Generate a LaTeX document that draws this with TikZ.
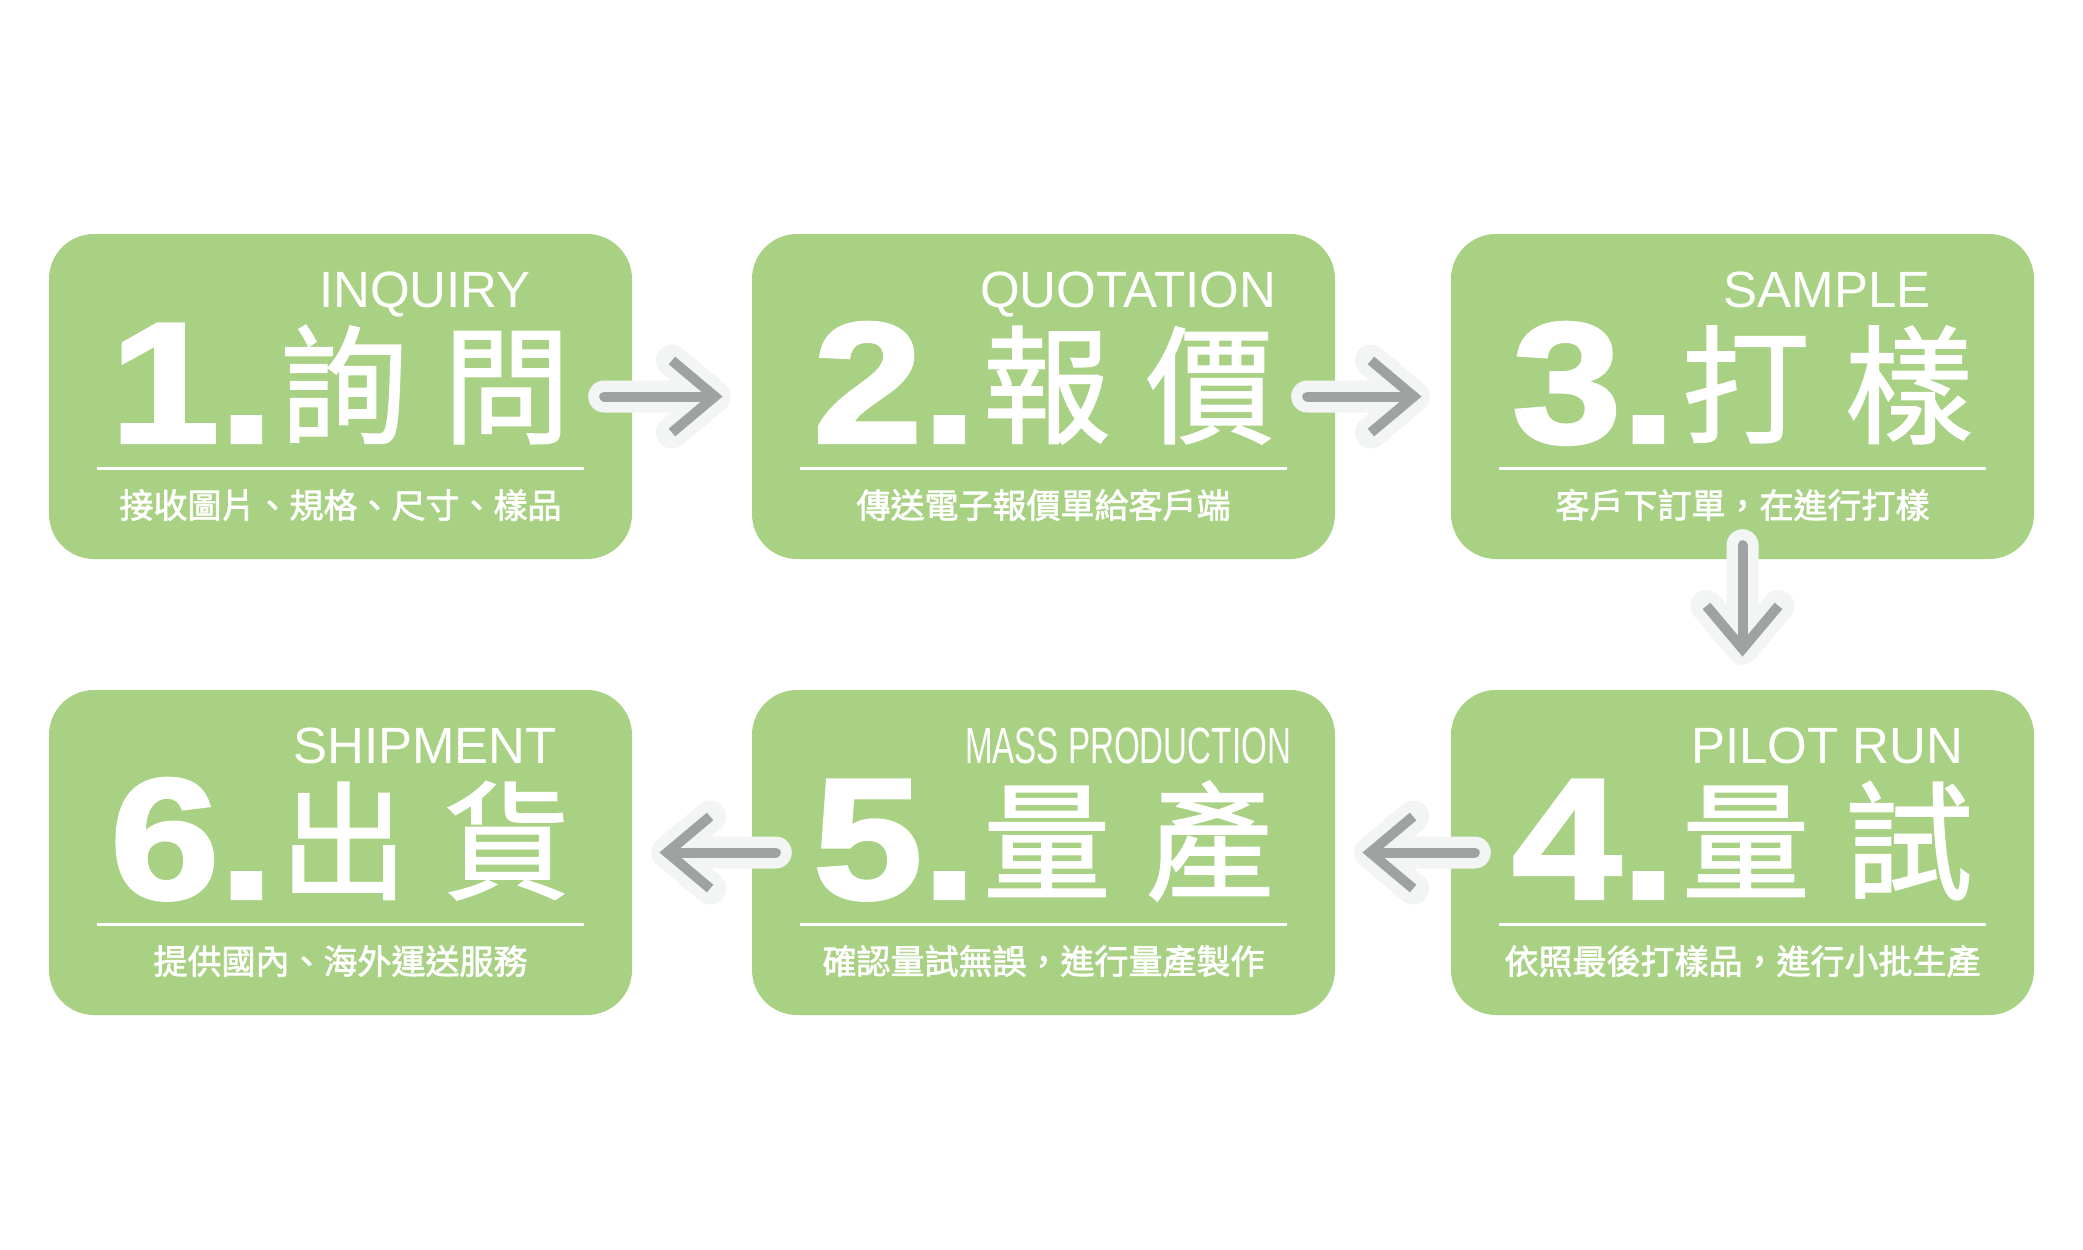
\documentclass[tikz,border=0pt]{standalone}
\usepackage{fontspec}
\usepackage{graphicx}
\usetikzlibrary{positioning,calc}
\setmainfont{Liberation Sans}
\newfontfamily\heavyfont{Liberation Sans}[BoldFeatures={FakeBold=2}]
\newfontfamily\cjkfont{Noto Sans CJK TC}[FakeBold=1.2]
\newfontfamily\cjknote{Noto Sans CJK TC}[FakeBold=2]
\definecolor{flowGreen}{RGB}{169,209,131}
\definecolor{flowGray}{RGB}{160,162,162}
\definecolor{flowHalo}{RGB}{243,245,245}

\tikzset{
  stepbox/.style={fill=flowGreen, rounded corners=45pt, minimum width=583pt,
                  minimum height=325pt, inner sep=0pt},
  steptitle/.style={anchor=base, inner sep=0pt, text=white,
                    font=\fontsize{51}{51}\selectfont},
  stepbig/.style={anchor=base, inner sep=0pt, text=white},
  stepnote/.style={anchor=base, inner sep=0pt, text=white,
                   font=\cjknote\fontsize{34}{34}\selectfont},
  sepline/.style={draw=white, line width=2.5pt},
  arrowhalo/.style={draw=flowHalo, line width=32pt, line cap=round, line join=round},
  arrowcore/.style={draw=flowGray, line width=10pt},
}

\newcommand{\bignum}[1]{\scalebox{1.14}[1]{\heavyfont\bfseries\fontsize{172}{172}\selectfont #1}}
\newcommand{\bigzh}[2]{\raisebox{9pt}{\cjkfont\fontsize{128}{128}\selectfont #1\hspace{35pt}#2}}
% #1 tail, #2 tip, #3 direction
\newcommand{\flowarrow}[3]{%
  \draw[arrowhalo] (#1) -- (#2) ($(#2)+(#3+140:56)$) -- (#2) -- ($(#2)+(#3-140:56)$);
  \draw[arrowcore, line cap=round] (#1) -- (#2);
  \draw[arrowcore] ($(#2)+(#3+140:56)$) -- (#2) -- ($(#2)+(#3-140:56)$);
}

\begin{document}
\begin{tikzpicture}[x=1pt, y=-1pt]
  \fill[white] (0,0) rectangle (2083,1250);

  % the six steps
  \foreach \nm/\cx/\cy/\num/\za/\zb/\en/\note in {
      inquiry/340.5/396.5/1./詢/問/INQUIRY/接收圖片、規格、尺寸、樣品,
      quotation/1043.5/396.5/2./報/價/QUOTATION/傳送電子報價單給客戶端,
      sample/1742.5/396.5/3./打/樣/SAMPLE/客戶下訂單，在進行打樣,
      pilot/1742.5/852.5/4./量/試/PILOT RUN/依照最後打樣品，進行小批生產,
      mass/1043.5/852.5/5./量/產/{\scalebox{0.65}[1]{MASS PRODUCTION}}/確認量試無誤，進行量產製作,
      shipment/340.5/852.5/6./出/貨/SHIPMENT/提供國內、海外運送服務}{
    \node[stepbox] (\nm) at (\cx,\cy) {};
    \node[steptitle] (\nm-en) at (\cx+84.5,\cy-89) {\en};
    \node[stepbig] (\nm-zh) at (\cx,\cy+46) {\bignum{\num}\hspace{6pt}\bigzh{\za}{\zb}};
    \draw[sepline] ($(\nm.west)+(48,72)$) -- ($(\nm.east)+(-48,72)$);
    \node[stepnote] (\nm-note) at (\cx,\cy+121.5) {\note};
  }

  % connectors
  \coordinate (iq-s) at ([xshift=-28pt]inquiry.east);
  \coordinate (iq-t) at ([xshift=-37pt]quotation.west);
  \coordinate (qs-s) at ([xshift=-28pt]quotation.east);
  \coordinate (qs-t) at ([xshift=-37pt]sample.west);
  \coordinate (sp-s) at ([yshift=14pt]sample.south);
  \coordinate (sp-t) at ([yshift=41pt]pilot.north);
  \coordinate (pm-s) at ([xshift=24pt]pilot.west);
  \coordinate (pm-t) at ([xshift=35pt]mass.east);
  \coordinate (ms-s) at ([xshift=24pt]mass.west);
  \coordinate (ms-t) at ([xshift=35pt]shipment.east);
  \flowarrow{iq-s}{iq-t}{0}
  \flowarrow{qs-s}{qs-t}{0}
  \flowarrow{sp-s}{sp-t}{90}
  \flowarrow{pm-s}{pm-t}{180}
  \flowarrow{ms-s}{ms-t}{180}
\end{tikzpicture}
\end{document}
